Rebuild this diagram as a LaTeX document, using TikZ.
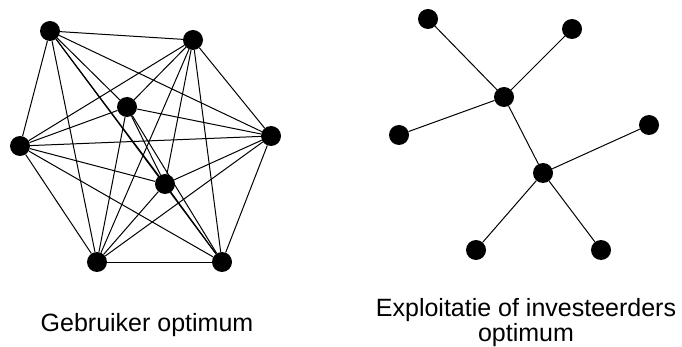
\documentclass[tikz,border=0pt]{standalone}
\usepackage{fontspec}
\setmainfont{Liberation Sans}
\begin{document}
\begin{tikzpicture}[x=1pt,y=-1pt,
  dot/.style={circle,fill=black,inner sep=0pt,minimum size=20pt},
  link/.style={line width=1pt,black},
  caption/.style={font=\fontsize{25}{25}\selectfont,align=center,inner sep=0pt}]
\useasboundingbox (0,0) rectangle (682,347);

% complete network: every node linked to every other
\node[dot] (a) at (50,31) {};
\node[dot] (b) at (193,40) {};
\node[dot] (c) at (127,107) {};
\node[dot] (d) at (20,146) {};
\node[dot] (e) at (271,136) {};
\node[dot] (f) at (165,184) {};
\node[dot] (g) at (97,262) {};
\node[dot] (h) at (222,262) {};
\foreach \i [count=\n] in {a,b,c,d,e,f,g,h}{
  \foreach \j [count=\m] in {a,b,c,d,e,f,g,h}{
    \ifnum\n<\m \draw[link] (\i) -- (\j); \fi
  }
}

% tree network
\node[dot] (p) at (504,97) {};
\node[dot] (q) at (543,173) {};
\node[dot] (t1) at (428,19) {};
\node[dot] (t2) at (572,29) {};
\node[dot] (t3) at (399,135) {};
\node[dot] (t4) at (649,125) {};
\node[dot] (t5) at (476,250) {};
\node[dot] (t6) at (601,250) {};
\draw[link] (t1) -- (p);
\draw[link] (t2) -- (p);
\draw[link] (t3) -- (p);
\draw[link] (p) -- (q);
\draw[link] (t4) -- (q);
\draw[link] (q) -- (t5);
\draw[link] (q) -- (t6);

% captions
\node[caption,anchor=base] (capl) at (147,331) {Gebruiker optimum};
\node[caption,anchor=center] (capr) at (526,323) {Exploitatie of investeerders\\optimum};
\end{tikzpicture}
\end{document}
